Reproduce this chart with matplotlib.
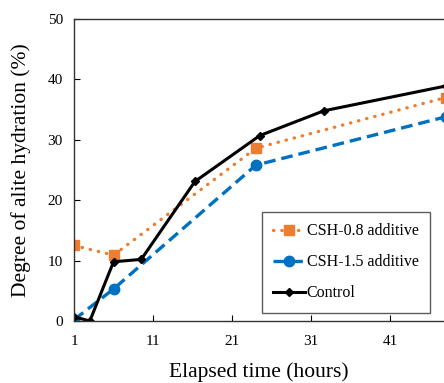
import matplotlib
matplotlib.use("Agg")
import matplotlib.pyplot as plt

# Data
t_csh08 = [1, 6, 24, 48]
v_csh08 = [12.5, 10.9, 28.6, 37.0]
t_csh15 = [1, 6, 24, 48]
v_csh15 = [0.2, 5.3, 25.8, 33.8]
t_ctrl = [1, 3, 6, 9.5, 16.3, 24.5, 32.6, 48]
v_ctrl = [0.7, 0.0, 9.8, 10.2, 23.1, 30.7, 34.8, 38.9]
xticks = [1, 11, 21, 31, 41]
yticks = [0, 10, 20, 30, 40, 50]

plt.rcParams['font.family'] = ['Liberation Serif', 'DejaVu Serif']

fig = plt.figure(figsize=(4.44, 3.83), dpi=100)
ax = fig.add_axes([0.1667, 0.1619, 0.8333, 0.7885])

ax.plot(t_csh08, v_csh08, color='#ED7D31', linestyle=(0, (0.1, 2.4)), lw=2.4,
        marker='s', markersize=7, dash_capstyle='round', label='CSH-0.8 additive')
ax.plot(t_csh15, v_csh15, color='#0070C0', linestyle=(0, (3.5, 1.8)), lw=2.4,
        marker='o', markersize=7.5, label='CSH-1.5 additive')
ax.plot(t_ctrl, v_ctrl, color='black', linestyle='-', lw=2.2,
        marker='D', markersize=4.5, label='Control')

ax.set_xlim(1, 47.8)
ax.set_ylim(0, 50)
ax.set_xticks(xticks)
ax.set_yticks(yticks)
ax.tick_params(direction='in', length=4, width=0.8, labelsize=11, pad=8)
ax.tick_params(axis='x', pad=10)

for s in ['left', 'bottom', 'top']:
    ax.spines[s].set_color('#333333')
    ax.spines[s].set_linewidth(1.0)
ax.spines['right'].set_visible(False)

ax.set_xlabel('Elapsed time (hours)', fontsize=15.5, labelpad=10)
ax.set_ylabel('Degree of alite hydration (%)', fontsize=15.5, labelpad=12)

leg = ax.legend(loc='upper left', bbox_to_anchor=(0.508, 0.361), fontsize=11.5,
                frameon=True, fancybox=False, edgecolor='#333333',
                handlelength=2.0, labelspacing=0.95, handletextpad=0.1,
                borderpad=0.7, borderaxespad=0)
leg.get_frame().set_linewidth(1.0)

fig.savefig('out.png', dpi=100)
